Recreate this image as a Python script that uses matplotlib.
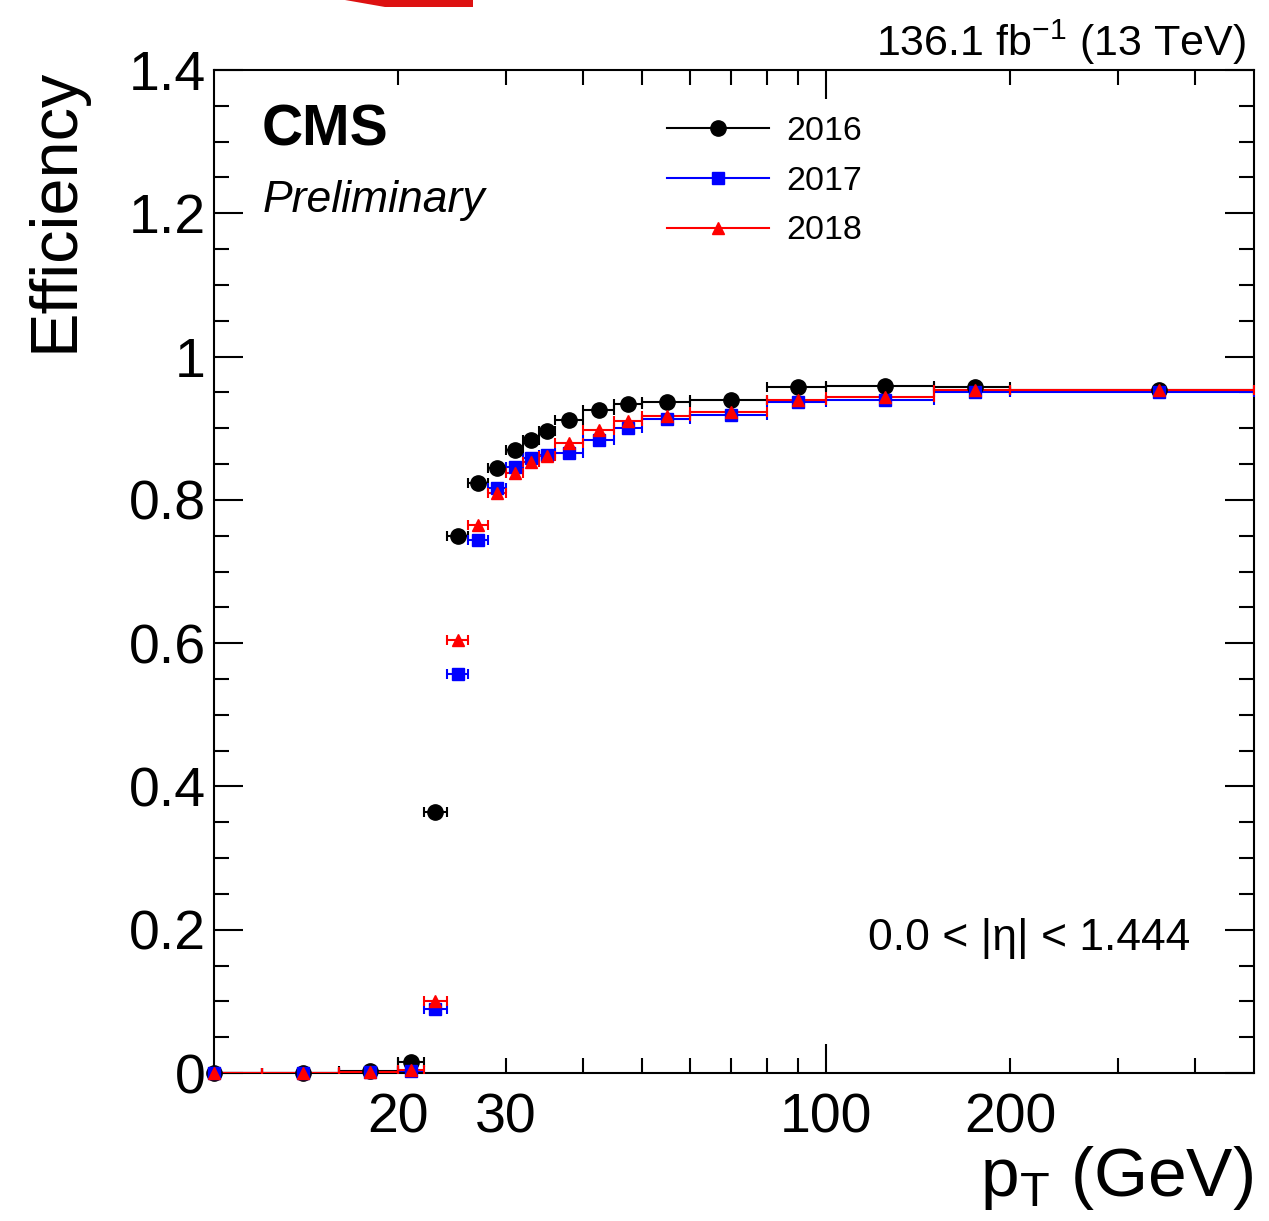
import matplotlib
matplotlib.use("Agg")
import matplotlib.pyplot as plt
from matplotlib.lines import Line2D
from matplotlib.patches import Polygon
from matplotlib.ticker import FixedLocator, FuncFormatter

plt.rcParams['font.family'] = ['Liberation Sans', 'DejaVu Sans']
plt.rcParams['mathtext.fontset'] = 'custom'
plt.rcParams['mathtext.rm'] = 'Liberation Sans'
plt.rcParams['mathtext.it'] = 'Liberation Sans:italic'

# pT bins (GeV)
bin_lo = [8, 12, 16, 20, 22, 24, 26, 28, 30, 32, 34, 36, 40, 45, 50, 60, 80, 100, 150, 200]
bin_hi = [12, 16, 20, 22, 24, 26, 28, 30, 32, 34, 36, 40, 45, 50, 60, 80, 100, 150, 200, 500]
pt = [10, 14, 18, 21, 23, 25, 27, 29, 31, 33, 35, 38, 42.5, 47.5, 55, 70, 90, 125, 175, 350]

# trigger efficiency per year
eff_2016 = [0.0, 0.0, 0.003, 0.016, 0.364, 0.750, 0.823, 0.845, 0.869, 0.883, 0.896, 0.911,
            0.925, 0.934, 0.936, 0.940, 0.957, 0.959, 0.958, 0.953]
eff_2017 = [0.0, 0.0, 0.002, 0.003, 0.090, 0.557, 0.744, 0.816, 0.846, 0.859, 0.863, 0.866,
            0.883, 0.900, 0.913, 0.919, 0.936, 0.940, 0.950, 0.950]
eff_2018 = [0.0, 0.0, 0.002, 0.004, 0.100, 0.605, 0.765, 0.809, 0.838, 0.853, 0.861, 0.880,
            0.897, 0.910, 0.917, 0.922, 0.940, 0.944, 0.953, 0.953]

years = ["2016", "2017", "2018"]
colors = ["black", "#0000ff", "#ff0000"]
markers = ["o", "s", "^"]
sizes = [11, 8.5, 8]

W, H = 1269, 1221
fig = plt.figure(figsize=(W / 100, H / 100), dpi=100)
ax = fig.add_axes([214 / W, 1 - 1073 / H, (1254 - 214) / W, (1073 - 70) / H])

xerr = [[p - lo for p, lo in zip(pt, bin_lo)], [hi - p for p, hi in zip(pt, bin_hi)]]
for eff, c, m, s in zip([eff_2016, eff_2017, eff_2018], colors, markers, sizes):
    line, caps, bars = ax.errorbar(pt, eff, xerr=xerr, fmt=m, color=c, ms=s, elinewidth=1.5,
                                   capsize=3.5, capthick=1.5)
    # markers on the frame are drawn whole, like ROOT does
    line.set_clip_on(False)

ax.set_xscale("log")
ax.set_xlim(10, 500)
ax.set_ylim(0, 1.4)

# ROOT-like ticks
ax.xaxis.set_major_locator(FixedLocator([100]))
ax.xaxis.set_minor_locator(FixedLocator([20, 30, 40, 50, 60, 70, 80, 90, 200, 300, 400]))
ax.xaxis.set_major_formatter(FuncFormatter(lambda v, p: "%d" % v))
ax.xaxis.set_minor_formatter(FuncFormatter(lambda v, p: "%d" % v if v in (20, 30, 200) else ""))
ax.yaxis.set_major_locator(FixedLocator([0, 0.2, 0.4, 0.6, 0.8, 1.0, 1.2, 1.4]))
ax.yaxis.set_minor_locator(FixedLocator([i * 0.05 for i in range(29)]))
ax.yaxis.set_major_formatter(FuncFormatter(lambda v, p: ("%.1f" % v).rstrip("0").rstrip(".") if v else "0"))

ax.tick_params(which="both", direction="in", top=True, right=True, width=1.5, labelsize=40)
ax.tick_params(which="major", length=21)
ax.tick_params(which="minor", length=11)
ax.tick_params(axis="x", which="both", pad=14)
ax.tick_params(axis="y", which="both", pad=6)
for sp in ax.spines.values():
    sp.set_linewidth(1.5)
    sp.set_zorder(0.5)

# texts
fig.text(55 / W, 1 - 68 / H, "Efficiency", rotation=90, ha="center", va="top", fontsize=48)
fig.text(1253 / W, 1 - 1196 / H, r"p$_\mathrm{T}$ (GeV)", ha="right", va="baseline", fontsize=50)
fig.text(262 / W, 1 - 145 / H, "CMS", fontweight="bold", fontsize=41, va="baseline")
fig.text(263 / W, 1 - 212 / H, "Preliminary", fontstyle="italic", fontsize=32, va="baseline")
fig.text(1246 / W, 1 - 56 / H, r"136.1 fb$^{-1}$ (13 TeV)", ha="right", va="baseline", fontsize=31)
fig.text(1190 / W, 1 - 950 / H, "0.0 < |η| < 1.444", ha="right", va="baseline", fontsize=32)

handles = [Line2D([], [], color=c, marker=m, ms=s, lw=1.5)
           for c, m, s in zip(colors, markers, sizes)]
fig.legend(handles, years, loc="upper left", bbox_to_anchor=(667 / W, 1 - 116 / H),
           frameon=False, fontsize=24.5, handlelength=3.0, handletextpad=0.5,
           labelspacing=0.55, borderpad=0, borderaxespad=0)

# red fragment at top edge of the cropped image
frag = [(345, 0), (473, 0), (473, 7), (385, 7)]
fig.add_artist(Polygon([(x / W, 1 - y / H) for x, y in frag], closed=True,
                       transform=fig.transFigure, color="#dd1111", lw=0))

fig.savefig("out.png", dpi=100)
